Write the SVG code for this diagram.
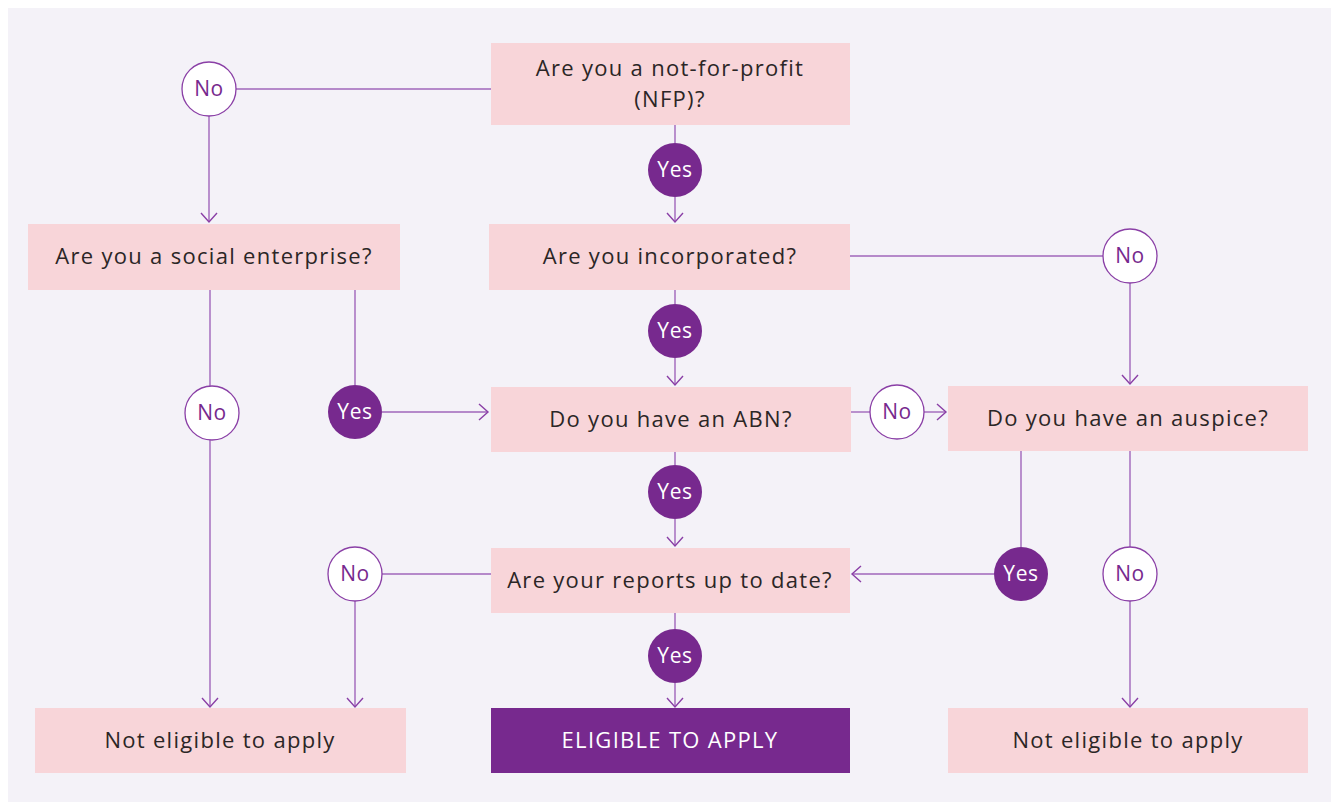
<svg xmlns="http://www.w3.org/2000/svg" width="1331" height="802" viewBox="0 0 1331 802">
<defs>
<style>
.bg{fill:#f4f2f8}
.box rect{fill:#f8d5d9}
.box text{font-family:"Open Sans","Liberation Sans",sans-serif;font-size:22px;letter-spacing:1.3px;fill:#2b2626;text-anchor:middle}
.final rect{fill:#77298e}
.final text{font-family:"Open Sans","Liberation Sans",sans-serif;font-size:22px;letter-spacing:1.3px;fill:#ffffff;text-anchor:middle}
.no circle{fill:#ffffff;stroke:#8a3fa6;stroke-width:1.3}
.no text{font-family:"Open Sans","Liberation Sans",sans-serif;font-size:21px;letter-spacing:0.6px;fill:#77298e;text-anchor:middle}
.yes circle{fill:#77298e}
.yes text{font-family:"Open Sans","Liberation Sans",sans-serif;font-size:21px;letter-spacing:0.6px;fill:#ffffff;text-anchor:middle}
.conn path{fill:none;stroke:#a066bb;stroke-width:1.4}
.conn path.arr{marker-end:url(#arrow)}
</style>
<marker id="arrow" markerWidth="20" markerHeight="20" refX="10" refY="9" orient="auto" markerUnits="userSpaceOnUse" viewBox="0 0 20 20">
<path d="M1,1 L10,9 L1,17" fill="none" stroke="#8a3fa6" stroke-width="1.4"/>
</marker>
</defs>
<rect class="bg" x="8" y="8" width="1323" height="794"/>

<g class="conn" id="connectors">
<path d="M236,89 H491"/>
<path class="arr" d="M209,116 V222"/>
<path d="M675,125 V143"/>
<path class="arr" d="M675,197 V222"/>
<path d="M850,256 H1103"/>
<path class="arr" d="M1130,283 V384"/>
<path d="M675,290 V304"/>
<path class="arr" d="M675,358 V385"/>
<path d="M210,290 V386"/>
<path class="arr" d="M210,440 V707"/>
<path d="M355,290 V385"/>
<path class="arr" d="M382,412 H488"/>
<path d="M851,412 H870"/>
<path class="arr" d="M924,412 H946"/>
<path d="M675,452 V465"/>
<path class="arr" d="M675,519 V546"/>
<path d="M382,574 H491"/>
<path class="arr" d="M355,601 V707"/>
<path d="M1021,450 V547"/>
<path class="arr" d="M994,574 H852"/>
<path d="M1130,450 V547"/>
<path class="arr" d="M1130,601 V707"/>
<path d="M675,613 V629"/>
<path class="arr" d="M675,683 V707"/>
</g>

<g class="box" id="n-nfp"><rect x="491" y="43" width="359" height="82"/><text x="670" y="76">Are you a not-for-profit</text><text x="670" y="107">(NFP)?</text></g>
<g class="box" id="n-social"><rect x="28" y="224" width="372" height="66"/><text x="214" y="264">Are you a social enterprise?</text></g>
<g class="box" id="n-incorp"><rect x="489" y="224" width="361" height="66"/><text x="670" y="264">Are you incorporated?</text></g>
<g class="box" id="n-abn"><rect x="491" y="387" width="360" height="65"/><text x="671" y="427">Do you have an ABN?</text></g>
<g class="box" id="n-auspice"><rect x="948" y="386" width="360" height="65"/><text x="1128" y="426">Do you have an auspice?</text></g>
<g class="box" id="n-reports"><rect x="491" y="548" width="359" height="65"/><text x="670" y="588">Are your reports up to date?</text></g>
<g class="box" id="n-not1"><rect x="35" y="708" width="371" height="65"/><text x="220" y="748">Not eligible to apply</text></g>
<g class="final" id="n-eligible"><rect x="491" y="708" width="359" height="65"/><text x="670" y="748">ELIGIBLE TO APPLY</text></g>
<g class="box" id="n-not2"><rect x="948" y="708" width="360" height="65"/><text x="1128" y="748">Not eligible to apply</text></g>

<g class="no" id="l-no1"><circle cx="209" cy="89" r="27"/><text x="209" y="96">No</text></g>
<g class="yes" id="l-yes1"><circle cx="675" cy="170" r="27"/><text x="675" y="177">Yes</text></g>
<g class="no" id="l-no2"><circle cx="1130" cy="256" r="27"/><text x="1130" y="263">No</text></g>
<g class="yes" id="l-yes2"><circle cx="675" cy="331" r="27"/><text x="675" y="338">Yes</text></g>
<g class="no" id="l-no3"><circle cx="212" cy="413" r="27"/><text x="212" y="420">No</text></g>
<g class="yes" id="l-yes3"><circle cx="355" cy="412" r="27"/><text x="355" y="419">Yes</text></g>
<g class="no" id="l-no4"><circle cx="897" cy="412" r="27"/><text x="897" y="419">No</text></g>
<g class="yes" id="l-yes4"><circle cx="675" cy="492" r="27"/><text x="675" y="499">Yes</text></g>
<g class="no" id="l-no5"><circle cx="355" cy="574" r="27"/><text x="355" y="581">No</text></g>
<g class="yes" id="l-yes5"><circle cx="1021" cy="574" r="27"/><text x="1021" y="581">Yes</text></g>
<g class="no" id="l-no6"><circle cx="1130" cy="574" r="27"/><text x="1130" y="581">No</text></g>
<g class="yes" id="l-yes6"><circle cx="675" cy="656" r="27"/><text x="675" y="663">Yes</text></g>
</svg>
